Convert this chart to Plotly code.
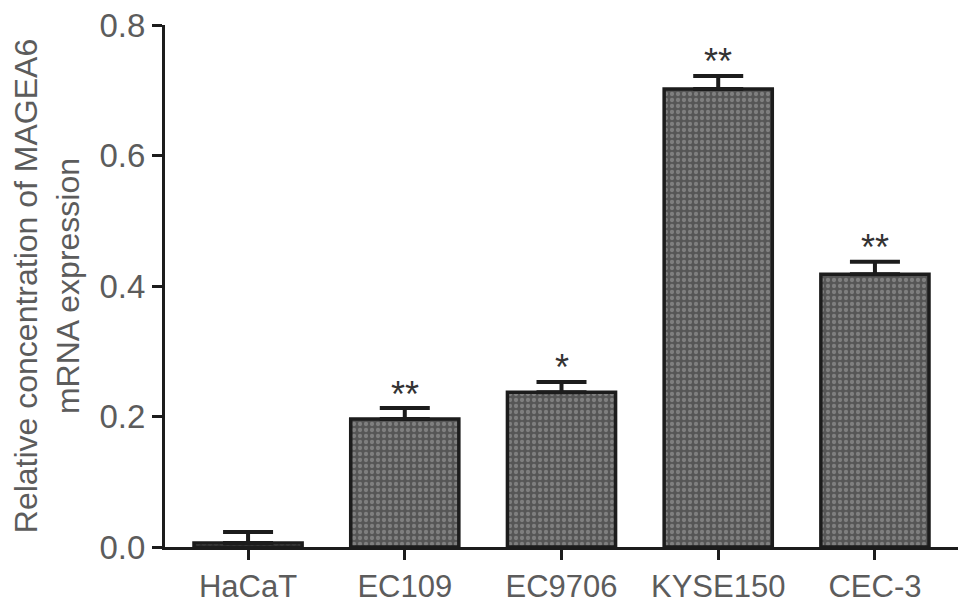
import plotly.graph_objects as go

cell_lines = ["HaCaT", "EC109", "EC9706", "KYSE150", "CEC-3"]
expression = [0.006, 0.196, 0.237, 0.702, 0.418]
error_up = [0.017, 0.017, 0.016, 0.020, 0.019]
stars = ["", "**", "*", "**", "**"]

FONT = "Liberation Sans, Arial, Helvetica, sans-serif"
INK = "#1c1c1c"
GREY_TEXT = "#5c5c5c"

fig = go.Figure()
fig.add_trace(go.Bar(
    x=cell_lines,
    y=expression,
    width=0.69,
    marker=dict(
        color="#6b6b6b",
        line=dict(color=INK, width=3.5),
        pattern=dict(shape=".", bgcolor="#565656", fgcolor="#a8a8a8", size=6, solidity=0.4),
    ),
    error_y=dict(type="data", symmetric=False, array=error_up, arrayminus=[0] * 5,
                 color=INK, thickness=4, width=25),
    showlegend=False,
))

# significance marks above the error caps
for name, val, err, s in zip(cell_lines, expression, error_up, stars):
    if s:
        fig.add_annotation(x=name, y=val + err, text=s, showarrow=False,
                           yanchor="middle", yshift=14,
                           font=dict(size=36, color="#333333", family=FONT))

fig.update_layout(
    width=969, height=614,
    paper_bgcolor="white", plot_bgcolor="white",
    margin=dict(l=157, r=19, t=17, b=75),
    font=dict(family=FONT, color=GREY_TEXT),
    xaxis=dict(range=[-0.53, 4.53], showline=True, linecolor=INK, linewidth=3,
               ticks="outside", ticklen=10, tickwidth=2.5, tickcolor=INK, automargin=False,
               tickfont=dict(size=31, color=GREY_TEXT), showgrid=False, zeroline=False),
    yaxis=dict(range=[0, 0.8], tickvals=[0, 0.2, 0.4, 0.6, 0.8],
               ticktext=["0.0", "0.2", "0.4", "0.6", "0.8"],
               ticklabeloverflow="allow", automargin=False,
               showline=True, linecolor=INK, linewidth=3,
               ticks="outside", ticklen=10, tickwidth=3, tickcolor=INK,
               tickfont=dict(size=33, color=GREY_TEXT), showgrid=False, zeroline=False,
               title=dict(text="Relative concentration of MAGEA6<br>mRNA expression",
                          font=dict(size=32, color=GREY_TEXT), standoff=14)),
)

fig.write_html("out.html")
